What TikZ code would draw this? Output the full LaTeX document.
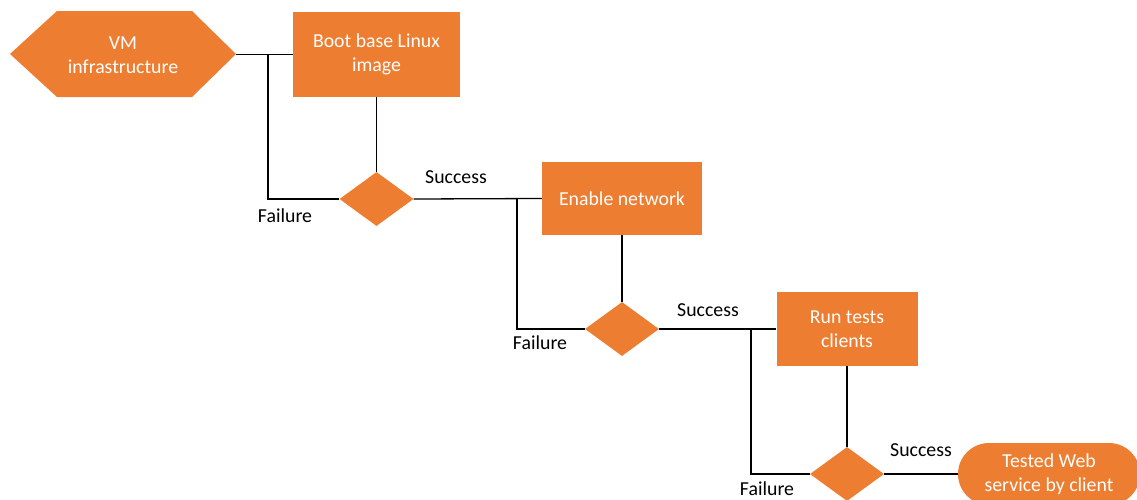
\documentclass[tikz,border=0pt]{standalone}
\usepackage{fontspec}
\setmainfont{Carlito}
\usetikzlibrary{shapes.geometric}
\definecolor{office}{HTML}{ED7D31}
\begin{document}
\begin{tikzpicture}[x=1pt,y=-1pt,
  boxnode/.style={fill=office,draw=none,text=white,align=center,inner sep=0pt,
    font=\fontsize{19.8}{24.5}\selectfont},
  decision/.style={diamond,fill=office,draw=none,inner sep=0pt,aspect=1.35,
    minimum width=74pt,minimum height=54pt},
  link/.style={draw=black,line width=1.3pt},
  lbl/.style={text=black,inner sep=0pt,font=\fontsize{19.8}{23}\selectfont}]
\useasboundingbox (0,0) rectangle (1137,499);
\clip (0,0) rectangle (1137,499);
% hexagon
\fill[office] (10,54) -- (57,11) -- (192,11) -- (236,54) -- (192,97) -- (57,97) -- cycle;
\node[boxnode,fill=none] (hex) at (123,55) {VM\\infrastructure};
\coordinate (hexE) at (236,54.5);
\node[boxnode,minimum width=167pt,minimum height=85pt] (box1) at (376.5,54.5) {Boot base Linux\\image};
\node[decision] (d1) at (376.5,199) {};
\node[boxnode,minimum width=160pt,minimum height=73pt] (box2) at (622,198.5) {Enable network};
\node[decision] (d2) at (622,329) {};
\node[boxnode,minimum width=141pt,minimum height=74pt] (box3) at (847,329) {Run tests\\clients};
\node[decision] (d3) at (847,474) {};
\node[boxnode,rounded corners=31pt,minimum width=182pt,minimum height=62pt] (term) at (1049,474) {Tested Web\\service by client};
\coordinate (j1) at (268,54.5);
\coordinate (j2) at (517,199);
\coordinate (j3) at (751,329);
% connectors
\draw[link] (hexE) -- (box1.west);
\draw[link] (d1.west) -| (j1);
\draw[link] (box1.south) -- (d1.north);
\draw[link] (d1.east) -- (box2.west);
\draw[link] (d2.west) -| (j2);
\draw[link] (box2.south) -- (d2.north);
\draw[link] (d2.east) -- (box3.west);
\draw[link] (d3.west) -| (j3);
\draw[link] (box3.south) -- (d3.north);
\draw[link] (d3.east) -- (term.west);
% labels
\node[lbl] (f1) at (285,216) {Failure};
\node[lbl] (s1) at (456,177) {Success};
\node[lbl] (f2) at (540,343) {Failure};
\node[lbl] (s2) at (708,310) {Success};
\node[lbl] (f3) at (767,488.5) {Failure};
\node[lbl] (s3) at (921,450) {Success};
\end{tikzpicture}
\end{document}
